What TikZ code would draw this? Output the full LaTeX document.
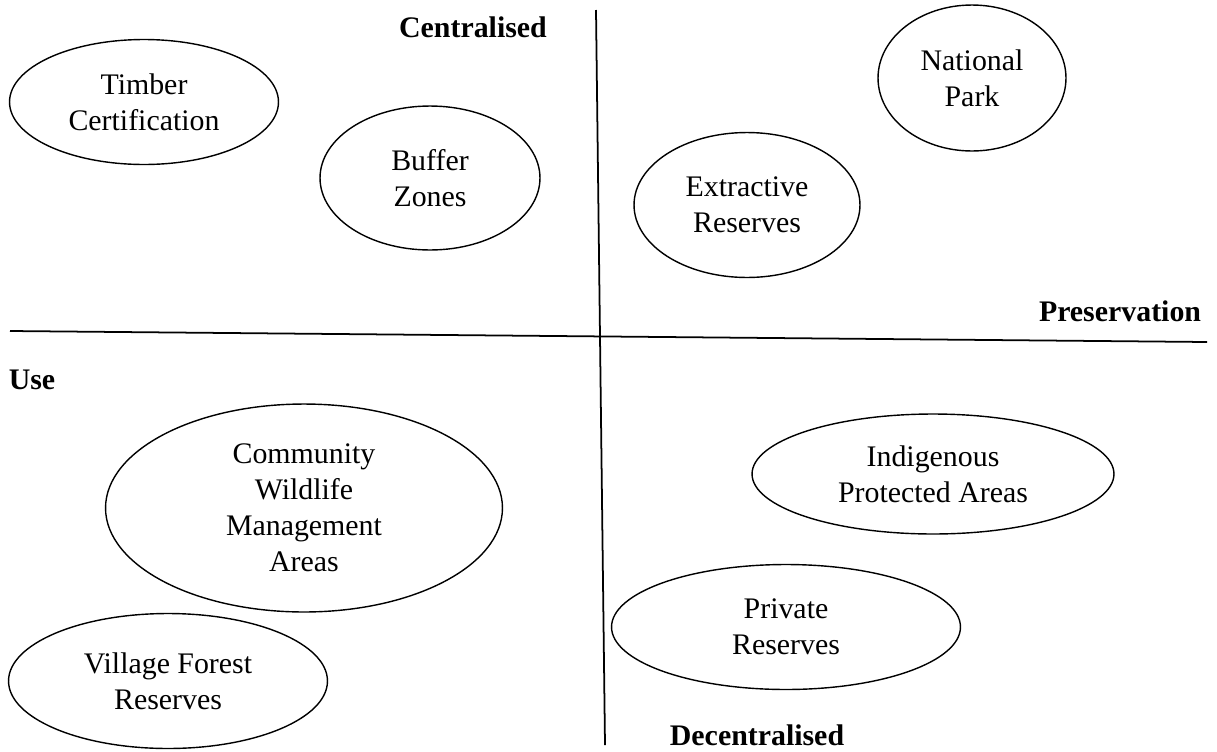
\documentclass[tikz,border=0pt]{standalone}
\usepackage{fontspec}
\setmainfont{Liberation Serif}
\usetikzlibrary{shapes.geometric}

\tikzset{
  scheme/.style={draw, ellipse, line width=0.8pt, inner sep=0pt, align=center,
    font=\fontsize{17}{20.5}\selectfont},
  axislabel/.style={font=\fontsize{17}{20.5}\selectfont\bfseries}
}

\begin{document}
\begin{tikzpicture}[x=0.02cm,y=-0.02cm]
\useasboundingbox (0,0) rectangle (1217,751);

% axes
\coordinate (top) at (596,10);
\coordinate (bottom) at (605,745);
\coordinate (left) at (10,331);
\coordinate (right) at (1207,342);
\draw[line width=1pt] (top) -- (bottom);
\draw[line width=1pt] (left) -- (right);

\node[axislabel] (central) at (473,27) {Centralised};
\node[axislabel] (preserve) at (1120,311) {Preservation};
\node[axislabel] (use) at (32,380) {Use};
\node[axislabel] (decentral) at (757,735) {Decentralised};

% upper half
\node[scheme, minimum width=5.38cm, minimum height=2.5cm] (timber) at (144,102) {Timber\\Certification};
\node[scheme, minimum width=4.4cm, minimum height=2.88cm] (buffer) at (430,178) {Buffer\\Zones};
\node[scheme, minimum width=3.76cm, minimum height=2.92cm] (park) at (972,78) {National\\Park};
\node[scheme, minimum width=4.52cm, minimum height=2.9cm] (extract) at (747,205) {Extractive\\Reserves};

% lower half
\node[scheme, minimum width=7.94cm, minimum height=4.16cm] (community) at (304,508) {Community\\Wildlife\\Management\\Areas};
\node[scheme, minimum width=6.38cm, minimum height=2.7cm] (village) at (168,681) {Village Forest\\Reserves};
\node[scheme, minimum width=7.24cm, minimum height=2.4cm] (indigenous) at (933,474) {Indigenous\\Protected Areas};
\node[scheme, minimum width=6.98cm, minimum height=2.5cm] (private) at (786,627) {Private\\Reserves};

\end{tikzpicture}
\end{document}
